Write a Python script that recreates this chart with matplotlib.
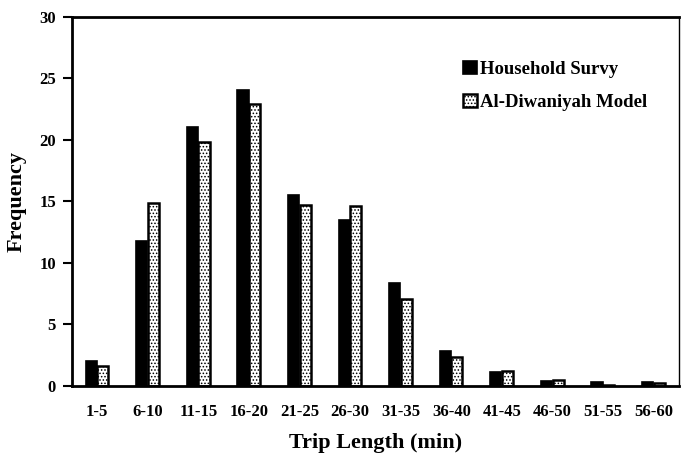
import matplotlib
matplotlib.use("Agg")
import matplotlib.pyplot as plt
import numpy as np

categories = ["1-5", "6-10", "11-15", "16-20", "21-25", "26-30", "31-35",
              "36-40", "41-45", "46-50", "51-55", "56-60"]
survey = [2.0, 11.8, 21.05, 24.05, 15.5, 13.5, 8.4, 2.85, 1.1, 0.4, 0.3, 0.3]
model = [1.65, 14.9, 19.85, 22.9, 14.7, 14.65, 7.1, 2.35, 1.2, 0.5, 0.1, 0.25]
yticks = [0, 5, 10, 15, 20, 25, 30]

plt.rcParams['font.family'] = ['Liberation Serif', 'DejaVu Serif']
plt.rcParams['font.weight'] = 'bold'
plt.rcParams['hatch.linewidth'] = 0.7

fig = plt.figure(figsize=(6.81, 4.57), dpi=100)
ax = fig.add_axes([0.1057, 0.1554, 0.8913, 0.8074])

x = np.arange(len(categories))
w = 0.22
ax.bar(x - w / 2 - 0.01, survey, width=w, color='black', edgecolor='black',
       linewidth=1.2, label='Household Survy')
ax.bar(x + w / 2, model, width=w, color='white', edgecolor='black',
       hatch='.....', linewidth=1.8, label='Al-Diwaniyah Model')

ax.set_xlim(-0.5, len(categories) - 0.5)
ax.set_ylim(0, 30)
ax.set_yticks(yticks)
ax.set_xticks(x)
ax.set_xticklabels(categories, fontsize=12, fontweight='bold')
ax.set_yticklabels([str(t) for t in yticks], fontsize=12, fontweight='bold')
ax.tick_params(axis='x', length=0, pad=13)
ax.tick_params(axis='y', length=6.5, width=1.5, direction='out', pad=5)

for side in ['left', 'bottom', 'top']:
    ax.spines[side].set_linewidth(2)
ax.spines['right'].set_linewidth(1)

ax.set_xlabel('Trip Length (min)', fontsize=16, fontweight='bold', labelpad=9)
ax.set_ylabel('Frequency', fontsize=16, fontweight='bold', labelpad=9)

leg = ax.legend(loc='upper left', bbox_to_anchor=(0.645, 0.88), frameon=False,
                borderpad=0, borderaxespad=0,
                handlelength=0.7, handleheight=0.7, handletextpad=0.2,
                labelspacing=0.85,
                prop={'family': 'Liberation Serif', 'weight': 'bold', 'size': 13.5})

fig.savefig('out.png', dpi=100)
